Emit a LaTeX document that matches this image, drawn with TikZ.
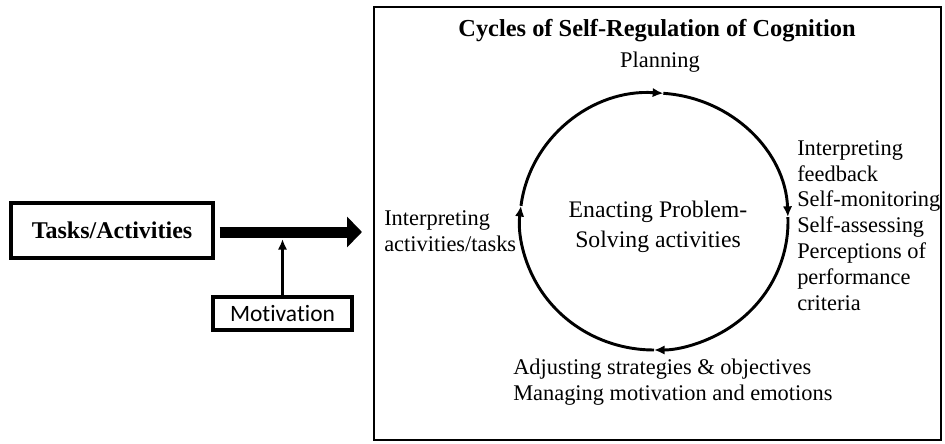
\documentclass[tikz,border=0pt]{standalone}
\usepackage{fontspec}
\setmainfont{Liberation Serif}
\newfontfamily\calibrifont[Ligatures=NoCommon]{Carlito}
\usetikzlibrary{arrows.meta, positioning, calc}

\begin{document}
\begin{tikzpicture}[x=0.75pt, y=-0.75pt,
    box/.style={draw, line width=2.4pt, inner sep=0pt},
    phase/.style={align=left, inner sep=0pt, font=\fontsize{16.8}{19.4}\selectfont},
    cycarrow/.style={line width=2.2pt, -{Latex[length=8pt,width=7pt]}}]
  \useasboundingbox (0,0) rectangle (945,443);

  % Tasks and motivation on the left
  \node[box, minimum width=151.5pt, minimum height=41.25pt,
        font=\bfseries\fontsize{18}{20}\selectfont] (tasks) at (112,230.5) {Tasks/Activities};
  \node[box, minimum width=104.25pt, minimum height=24.75pt,
        font=\calibrifont\fontsize{17.6}{19}\selectfont] (motiv) at (282.5,313.5) {Motivation};

  % Thick arrow into the cycle box
  \coordinate (bigtip) at (362,232);
  \draw[line width=8.25pt, -{Triangle[length=11.25pt,width=22.5pt]}]
    ([xshift=3.75pt]tasks.east |- bigtip) -- (bigtip);
  \coordinate (shaft) at (282.5,239);
  \draw[line width=2pt, -{Latex[length=8pt,width=7pt]}] (motiv.north) -- (shaft);

  % Frame and title
  \draw[line width=2.2pt] (374,7) rectangle (941,440);
  \node[font=\bfseries\fontsize{18.3}{20}\selectfont] (title) at (657,31)
    {Cycles of Self-Regulation of Cognition};

  % The cycle
  \coordinate (cyc) at (654,221.5);
  \foreach \a/\b in {-173/-86, -86/-2, -2/90, 90/187}
    \draw[cycarrow] ($(cyc)+(\a:134 and 128.5)$)
      arc[start angle=\a, end angle=\b, x radius=134, y radius=128.5];

  \node[align=center, inner sep=0pt, font=\fontsize{17.8}{22.5}\selectfont] (enact) at (658,227)
    {Enacting Problem-\\Solving activities};

  % Phases round the cycle
  \node[phase] (plan) at (660,62) {Planning};
  \node[phase, anchor=west] (feedback) at (797,225.5)
    {Interpreting\\feedback\\Self-monitoring\\Self-assessing\\Perceptions of\\performance\\criteria};
  \node[phase, anchor=west] (adjust) at (513,382.5)
    {Adjusting strategies \& objectives\\Managing motivation and emotions};
  \node[phase, anchor=west] (interp) at (384,231)
    {Interpreting\\activities/tasks};
\end{tikzpicture}
\end{document}
